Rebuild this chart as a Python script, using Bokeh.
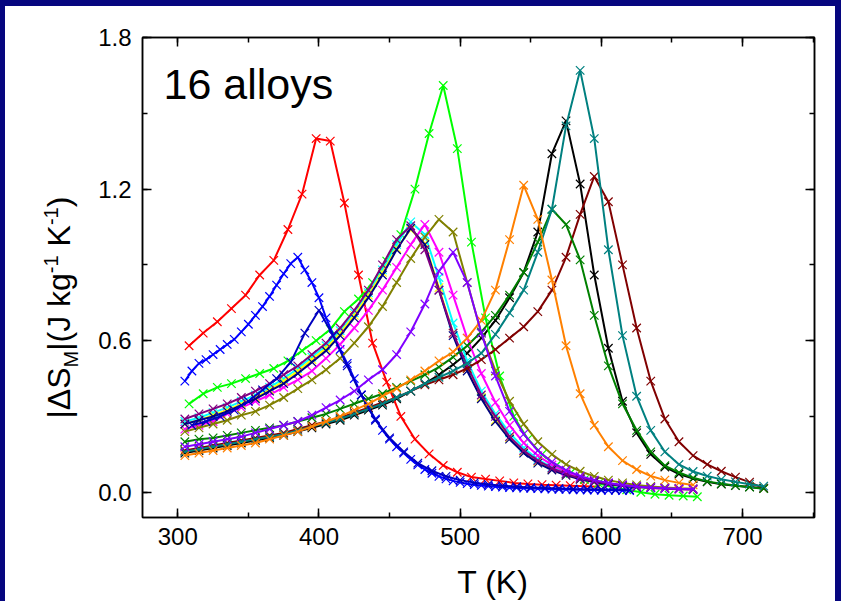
import math
from bokeh.plotting import figure
from bokeh.models import (Range1d, LinearAxis, SingleIntervalTicker,
                          PrintfTickFormatter, Label, ColumnDataSource, Spacer)
from bokeh.layouts import column, row
from bokeh.embed import file_html
from bokeh.resources import INLINE

# ---------------- data ----------------
T_red = list(range(308, 599, 10))
S_red = [0.58, 0.63, 0.675, 0.727, 0.78, 0.86, 0.918, 1.04, 1.18, 1.40, 1.39, 1.145,
         0.86, 0.59, 0.436, 0.30, 0.21, 0.152, 0.106, 0.079, 0.06, 0.052, 0.045,
         0.037, 0.033, 0.03, 0.028, 0.026, 0.024, 0.022]

T_blue = list(range(305, 621, 5))
S_blue = [0.44, 0.48, 0.51, 0.525, 0.545, 0.565, 0.585, 0.605, 0.635, 0.665,
          0.70, 0.735, 0.775, 0.82, 0.865, 0.905, 0.93, 0.88, 0.83, 0.77,
          0.69, 0.625, 0.565, 0.51, 0.45, 0.385, 0.335, 0.29, 0.245, 0.21,
          0.18, 0.155, 0.13, 0.108, 0.09, 0.075, 0.063, 0.053, 0.045, 0.039,
          0.034, 0.03, 0.027, 0.024, 0.022, 0.02, 0.018, 0.017, 0.016, 0.015,
          0.014, 0.013, 0.012, 0.011, 0.011, 0.01, 0.01, 0.009, 0.009, 0.008,
          0.008, 0.008, 0.007, 0.007]

T_royal = list(range(310, 621, 10))
S_royal = [0.265, 0.28, 0.30, 0.325, 0.36, 0.405, 0.45, 0.515, 0.63, 0.72,
           0.62, 0.50, 0.385, 0.285, 0.215, 0.16, 0.115, 0.085, 0.063, 0.048,
           0.038, 0.031, 0.026, 0.022, 0.019, 0.017, 0.015, 0.013, 0.012, 0.011,
           0.01, 0.01]

T_green = list(range(308, 669, 10))
S_green = [0.35, 0.39, 0.415, 0.43, 0.45, 0.47, 0.49, 0.52, 0.56, 0.60, 0.645,
           0.715, 0.765, 0.83, 0.915, 1.02, 1.20, 1.42, 1.61, 1.36, 0.99, 0.69,
           0.46, 0.30, 0.21, 0.15, 0.105, 0.075, 0.05, 0.035, 0.02, 0.01, 0.0,
           -0.008, -0.012, -0.015, -0.018]

T_purple = list(range(305, 666, 10))
S_purple = [0.29, 0.31, 0.33, 0.35, 0.375, 0.40, 0.43, 0.465, 0.50, 0.545, 0.59,
            0.65, 0.72, 0.80, 0.90, 1.00, 1.055, 0.96, 0.80, 0.63, 0.50, 0.385,
            0.30, 0.22, 0.165, 0.125, 0.095, 0.072, 0.055, 0.043, 0.034, 0.027,
            0.021, 0.017, 0.014, 0.012, 0.01]

T_navy = list(range(305, 626, 10))
S_navy = [0.27, 0.285, 0.30, 0.32, 0.345, 0.37, 0.40, 0.43, 0.47, 0.515, 0.56,
          0.62, 0.69, 0.77, 0.86, 0.96, 1.045, 0.98, 0.80, 0.62, 0.48, 0.37,
          0.28, 0.21, 0.155, 0.115, 0.088, 0.067, 0.051, 0.04, 0.031, 0.025, 0.02]

T_cyan = list(range(305, 636, 10))
S_cyan = [0.28, 0.295, 0.315, 0.335, 0.36, 0.385, 0.415, 0.45, 0.49, 0.535, 0.58,
          0.64, 0.71, 0.79, 0.88, 0.98, 1.07, 1.02, 0.85, 0.67, 0.52, 0.40, 0.31,
          0.235, 0.175, 0.13, 0.098, 0.074, 0.056, 0.043, 0.034, 0.027, 0.021, 0.017]

T_yellow = list(range(305, 626, 10))
S_yellow = [0.27, 0.285, 0.305, 0.325, 0.35, 0.375, 0.405, 0.44, 0.48, 0.525, 0.57,
            0.63, 0.70, 0.78, 0.87, 0.965, 1.04, 0.985, 0.81, 0.63, 0.49, 0.375,
            0.285, 0.215, 0.16, 0.12, 0.09, 0.069, 0.053, 0.041, 0.032, 0.026, 0.021]

T_magenta = list(range(305, 666, 10))
S_magenta = [0.25, 0.265, 0.28, 0.31, 0.335, 0.36, 0.385, 0.415, 0.445, 0.48, 0.53,
             0.585, 0.65, 0.72, 0.80, 0.89, 0.98, 1.06, 0.95, 0.78, 0.61, 0.47,
             0.355, 0.265, 0.195, 0.145, 0.108, 0.08, 0.06, 0.046, 0.036, 0.028,
             0.022, 0.018, 0.015, 0.013, 0.012]

T_dkyellow = list(range(305, 666, 10))
S_dkyellow = [0.24, 0.255, 0.27, 0.285, 0.305, 0.32, 0.345, 0.375, 0.41, 0.445,
              0.485, 0.53, 0.59, 0.655, 0.735, 0.83, 0.925, 1.01, 1.08, 1.03, 0.83,
              0.63, 0.48, 0.36, 0.27, 0.20, 0.15, 0.11, 0.083, 0.063, 0.048, 0.037,
              0.029, 0.023, 0.019, 0.016, 0.014]

T_violet = list(range(305, 666, 10))
S_violet = [0.18, 0.19, 0.20, 0.21, 0.22, 0.235, 0.25, 0.265, 0.28, 0.305, 0.335,
            0.365, 0.40, 0.445, 0.485, 0.545, 0.635, 0.745, 0.875, 0.95, 0.83, 0.63,
            0.46, 0.32, 0.23, 0.165, 0.12, 0.087, 0.064, 0.048, 0.037, 0.029, 0.023,
            0.019, 0.016, 0.014, 0.013]

T_orange = list(range(305, 666, 10))
S_orange = [0.145, 0.155, 0.165, 0.175, 0.185, 0.195, 0.21, 0.225, 0.24, 0.26, 0.28,
            0.30, 0.325, 0.35, 0.38, 0.41, 0.445, 0.48, 0.52, 0.555, 0.61, 0.68,
            0.80, 1.00, 1.215, 1.08, 0.84, 0.58, 0.39, 0.265, 0.18, 0.125, 0.09,
            0.064, 0.048, 0.037, 0.029]

T_high = list(range(305, 716, 10))
S_dkgreen = [0.20, 0.21, 0.215, 0.225, 0.235, 0.245, 0.255, 0.265, 0.28, 0.295, 0.31,
             0.33, 0.35, 0.37, 0.39, 0.415, 0.44, 0.465, 0.495, 0.535, 0.58, 0.635,
             0.70, 0.78, 0.87, 0.99, 1.12, 1.06, 0.92, 0.70, 0.50, 0.35, 0.245, 0.16,
             0.105, 0.078, 0.057, 0.043, 0.034, 0.027, 0.02, 0.014]
S_black = [0.155, 0.165, 0.175, 0.185, 0.195, 0.205, 0.215, 0.225, 0.24, 0.255, 0.27,
           0.285, 0.305, 0.325, 0.345, 0.37, 0.40, 0.43, 0.465, 0.505, 0.55, 0.61,
           0.68, 0.77, 0.87, 1.03, 1.34, 1.47, 1.22, 0.86, 0.57, 0.36, 0.235, 0.15,
           0.10, 0.072, 0.054, 0.041, 0.032, 0.026, 0.021, 0.016]
S_teal = [0.16, 0.17, 0.18, 0.19, 0.20, 0.21, 0.22, 0.23, 0.245, 0.26, 0.275, 0.29,
          0.31, 0.33, 0.35, 0.375, 0.40, 0.43, 0.455, 0.48, 0.51, 0.55, 0.625, 0.71,
          0.80, 0.95, 1.12, 1.45, 1.67, 1.40, 0.96, 0.62, 0.38, 0.245, 0.16, 0.11,
          0.082, 0.064, 0.051, 0.041, 0.032, 0.024]
S_wine = [0.165, 0.175, 0.185, 0.195, 0.205, 0.215, 0.225, 0.235, 0.25, 0.265, 0.28,
          0.295, 0.315, 0.335, 0.355, 0.375, 0.40, 0.425, 0.445, 0.465, 0.49, 0.525,
          0.565, 0.61, 0.655, 0.715, 0.80, 0.93, 1.10, 1.25, 1.15, 0.90, 0.65, 0.44,
          0.29, 0.20, 0.145, 0.11, 0.083, 0.06, 0.04, 0.015]

x_ticks = [300, 400, 500, 600, 700]
y_ticks = [0.0, 0.6, 1.2, 1.8]

# plotting order (later = on top), Origin palette colours
series = [
    ("black", T_high, S_black, "#000000"),
    ("red", T_red, S_red, "#FF0000"),
    ("green", T_green, S_green, "#00FF00"),
    ("blue", T_blue, S_blue, "#0000FF"),
    ("cyan", T_cyan, S_cyan, "#00FFFF"),
    ("magenta", T_magenta, S_magenta, "#FF00FF"),
    ("yellow", T_yellow, S_yellow, "#FFFF00"),
    ("dark yellow", T_dkyellow, S_dkyellow, "#808000"),
    ("navy", T_navy, S_navy, "#000080"),
    ("purple", T_purple, S_purple, "#800080"),
    ("wine", T_high, S_wine, "#800000"),
    ("olive", T_high, S_dkgreen, "#008000"),
    ("dark cyan", T_high, S_teal, "#008080"),
    ("royal", T_royal, S_royal, "#0000C0"),
    ("orange", T_orange, S_orange, "#FF8000"),
    ("violet", T_violet, S_violet, "#8000FF"),
]

FONT = "Liberation Sans"
NAVY = "#06067F"
MID = 0.3465   # (ascent - descent)/2 of the font, in em


def blank_fig(w, h):
    f = figure(width=w, height=h, x_range=Range1d(0, w), y_range=Range1d(0, h),
               x_axis_type=None, y_axis_type=None,
               output_backend="svg", toolbar_location=None,
               min_border=0, min_border_left=0, min_border_right=0,
               min_border_top=0, min_border_bottom=0)
    f.outline_line_color = None
    f.background_fill_color = "white"
    f.border_fill_color = "white"
    f.xgrid.visible = False
    f.ygrid.visible = False
    return f


# ---------------- main plot ----------------
p = figure(width=750, height=554,
           x_range=Range1d(275, 751), y_range=Range1d(-0.1, 1.8),
           output_backend="svg", toolbar_location=None,
           min_border_left=57, min_border_right=21,
           min_border_top=31, min_border_bottom=43)
p.background_fill_color = "white"
p.border_fill_color = "white"
p.outline_line_color = "black"
p.outline_line_width = 1.5
p.xgrid.visible = False
p.ygrid.visible = False

for name, T, S, col in series:
    src = ColumnDataSource(dict(T=T, S=S))
    p.line("T", "S", source=src, line_color=col, line_width=2)
    p.scatter("T", "S", source=src, marker="x", size=12, line_color=col,
              line_width=1.2)


def style_axis(ax, show_labels=True):
    ax.axis_line_color = "black"
    ax.axis_line_width = 1.5
    ax.major_tick_in = 9
    ax.major_tick_out = 0
    ax.minor_tick_in = 5
    ax.minor_tick_out = 0
    ax.major_tick_line_color = "black"
    ax.minor_tick_line_color = "black"
    ax.major_tick_line_width = 1.5
    ax.minor_tick_line_width = 1.5
    ax.major_label_text_font = FONT
    if show_labels:
        ax.major_label_text_font_size = "24px"
        ax.major_label_text_color = "black"
    else:
        ax.major_label_text_font_size = "0px"
        ax.major_label_text_color = None


xa = p.xaxis[0]
xa.ticker = SingleIntervalTicker(interval=x_ticks[1] - x_ticks[0], num_minor_ticks=2)
xa.formatter = PrintfTickFormatter(format="%d")
xa.major_label_standoff = 10
style_axis(xa)

ya = p.yaxis[0]
ya.ticker = SingleIntervalTicker(interval=y_ticks[1] - y_ticks[0], num_minor_ticks=2)
ya.formatter = PrintfTickFormatter(format="%.1f")
ya.major_label_standoff = 11
style_axis(ya)

top = LinearAxis(ticker=SingleIntervalTicker(interval=100, num_minor_ticks=2))
style_axis(top, False)
p.add_layout(top, "above")
right = LinearAxis(ticker=SingleIntervalTicker(interval=0.6, num_minor_ticks=2))
style_axis(right, False)
p.add_layout(right, "right")

# "16 alloys" (screen units relative to the frame)
fs_big = 43
p.add_layout(Label(x=21, y=(517 - 98) + MID * fs_big, x_units="screen", y_units="screen",
                   text="16 alloys", text_font=FONT, text_font_size=f"{fs_big}px",
                   text_color="black", text_align="left", text_baseline="middle"))

# ---------------- x-axis title panel ----------------
xfig = blank_fig(750, 41)
fs_t = 32
xfig.add_layout(Label(x=476 - 85, y=(601 - 593) + MID * fs_t,
                      text="T (K)", text_font=FONT, text_font_size=f"{fs_t}px",
                      text_color="black", text_align="center", text_baseline="middle"))

# ---------------- y-axis title panel (rotated pieces) ----------------
yfig = blank_fig(80, 595)
W = {'|': 0.26, 'Δ': 0.668, 'S': 0.667, 'M': 0.833, '(': 0.333, ')': 0.333,
     'J': 0.5, ' ': 0.278, 'k': 0.5, 'g': 0.556, '-': 0.333, '1': 0.556, 'K': 0.667}
pieces = [("|ΔS", 32, 0), ("M", 20, 7), ("|(J kg", 32, 0), ("-1", 20, -13),
          (" ", 32, 0), ("K", 32, 0), ("-1", 20, -13), (")", 32, 0)]
base_x = 70 - 5          # baseline, in panel pixels
pos = 601 - 418          # bottom end of the title, in panel pixels
for txt, fs, shift in pieces:
    if txt.strip():
        yfig.add_layout(Label(x=base_x + shift - MID * fs, y=pos,
                              text=txt, text_font=FONT, text_font_size=f"{fs}px",
                              text_color="black", text_align="left",
                              text_baseline="middle", angle=math.pi / 2))
    pos += sum(W.get(ch, 0.55) for ch in txt) * fs


def strip(w, h):
    return Spacer(width=w, height=h, styles={"background-color": NAVY})


root = column(strip(841, 6),
              row(strip(5, 595), yfig, column(p, xfig), strip(6, 595)))
open("out.html", "w").write(file_html(root, INLINE))
